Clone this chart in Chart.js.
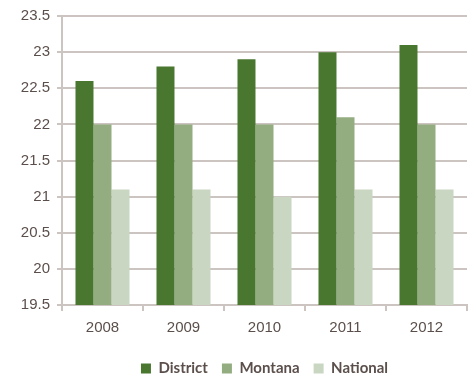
<!DOCTYPE html>
<html>
<head>
<meta charset="utf-8">
<script src="https://cdn.jsdelivr.net/npm/chart.js@4"></script>
<style>
  html, body { margin: 0; padding: 0; background: #fff; }
  #wrap { width: 472px; height: 378px; }
</style>
</head>
<body>
<div id="wrap"><canvas id="myChart"></canvas></div>
<script>
// Years on the x axis
const years = ['2008', '2009', '2010', '2011', '2012'];

// Series values
const district = [22.6, 22.8, 22.9, 23.0, 23.1];
const montana = [22.0, 22.0, 22.0, 22.1, 22.0];
const national = [21.1, 21.1, 21.0, 21.1, 21.1];

const textColor = '#5b4f4b';
const gridColor = '#cbc4c1';

const ctx = document.getElementById('myChart').getContext('2d');

new Chart(ctx, {
    type: 'bar',
    data: {
        labels: years,
        datasets: [
            { label: 'District', data: district, backgroundColor: '#49772f' },
            { label: 'Montana', data: montana, backgroundColor: '#93ad80' },
            { label: 'National', data: national, backgroundColor: '#c9d6c1' }
        ]
    },
    options: {
        responsive: true,
        maintainAspectRatio: false,
        animation: false,
        datasets: {
            bar: { categoryPercentage: 0.667, barPercentage: 1.0, borderWidth: 0 }
        },
        // negative bottom padding pulls the legend closer to the bottom edge
        layout: { padding: { top: 6, right: 5, left: 0, bottom: -8 } },
        scales: {
            x: {
                afterFit: (axis) => { axis.height += 2; },
                grid: {
                    display: true,
                    drawOnChartArea: false,
                    drawTicks: true,
                    tickLength: 6,
                    color: gridColor,
                    lineWidth: 2,
                    offset: true
                },
                border: { color: gridColor, width: 2 },
                ticks: { color: textColor, font: { family: 'Liberation Sans', size: 15 }, padding: 8 }
            },
            y: {
                min: 19.5,
                max: 23.5,
                afterFit: (axis) => { axis.width = 62; },
                grid: { color: gridColor, lineWidth: 2, tickLength: 5 },
                border: { color: gridColor, width: 2 },
                ticks: {
                    stepSize: 0.5,
                    color: textColor,
                    font: { family: 'Liberation Sans', size: 15 },
                    padding: 7,
                    callback: (v) => String(v)
                }
            }
        },
        plugins: {
            legend: {
                position: 'bottom',
                fullSize: false, // centre the legend under the plot area, not the canvas
                labels: {
                    color: textColor,
                    font: { family: 'Lato', size: 15, weight: 'bold' },
                    boxWidth: 10,
                    boxHeight: 10,
                    padding: 14
                }
            },
            tooltip: { enabled: false }
        }
    }
});
</script>
</body>
</html>
